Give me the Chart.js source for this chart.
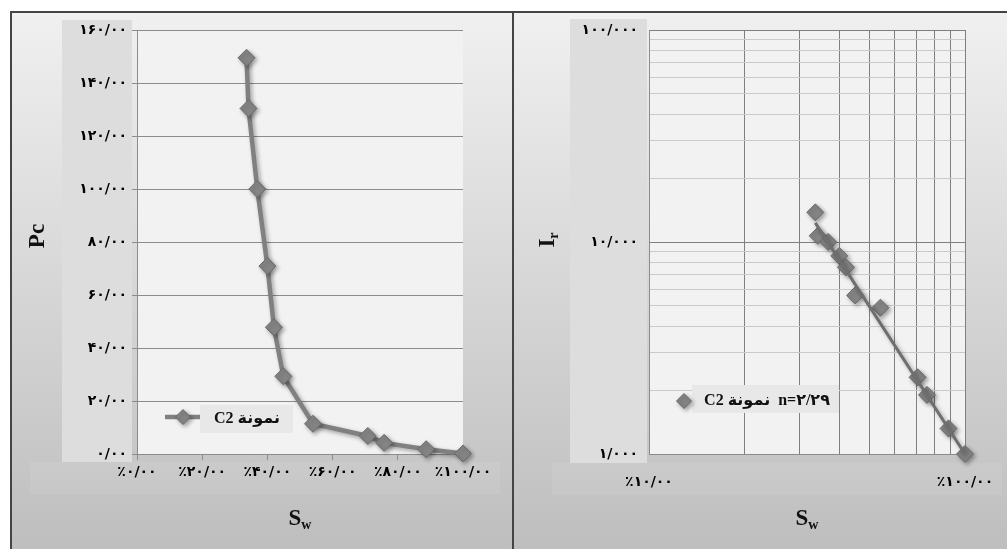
<!DOCTYPE html>
<html>
<head>
<meta charset="utf-8">
<script src="https://cdn.jsdelivr.net/npm/chart.js@4.4.0/dist/chart.umd.min.js"></script>
<style>
body{margin:0;background:#fff}
#wrap{position:relative;width:1007px;height:549px;overflow:hidden}
.panel{position:absolute;background:linear-gradient(#f0f0f0,#bebebe)}
canvas{position:absolute;top:0}
.line{position:absolute;background:#444}
</style>
</head>
<body>
<div id="wrap">
<div class="panel" style="left:12px;top:13px;width:500px;height:536px"></div>
<div class="panel" style="left:514px;top:13px;width:493px;height:536px"></div>
<canvas id="pcChart" width="512" height="549" style="left:0"></canvas>
<canvas id="irChart" width="495" height="549" style="left:512px"></canvas>
<div class="line" style="left:10px;top:11px;width:997px;height:2px"></div>
<div class="line" style="left:10px;top:11px;width:2px;height:538px"></div>
<div class="line" style="left:512px;top:11px;width:2px;height:538px"></div>
</div>
<script>

// saturation (%) shared by both plots
const swValues=[33.6,34.2,36.9,40.0,42.0,44.9,54.0,70.8,75.8,88.7,100]

// capillary pressure
const pcValues=[149.5,130.4,100.0,70.9,47.8,29.3,11.4,6.8,4.2,1.8,0.2]

// resistivity index
const irValues=[13.8,10.7,10.0,8.6,7.6,5.6,4.9,2.3,1.9,1.32,1.0]

// trend line ends
const trendSw=[33.6,100]
const trendIr=[12.3,1.0]

const pcTicks=[0,20,40,60,80,100,120,140,160]
const swTicks=[0,20,40,60,80,100]
const swLogTicks=[10,20,30,40,50,60,70,80,90,100]
const irLogTicks=[1,2,3,4,5,6,7,8,9,10,20,30,40,50,60,70,80,90,100]

const legendPc="نمونة C2"
const legendIr="n=۲/۲۹  نمونة C2"

const faDigits="۰۱۲۳۴۵۶۷۸۹"

function fa(s){
return s.replace(/\d/g,d=>faDigits[d]).replace(".","/")
}

function isDecade(v){
const l=Math.log10(v)
return Math.abs(l-Math.round(l))<1e-6
}

const tickFont={family:"'DejaVu Sans'",size:14,weight:"bold"}
const titleFont="bold 23px 'Liberation Serif', serif"
const subFont="bold 14px 'Liberation Serif', serif"

function drawSubTitle(ctx,x,y,main,sub,rotate){
ctx.save()
ctx.translate(x,y)
if(rotate) ctx.rotate(-Math.PI/2)
ctx.fillStyle="#111"
ctx.textBaseline="middle"
ctx.textAlign="left"
ctx.font=titleFont
const wm=ctx.measureText(main).width
ctx.font=subFont
const ws=ctx.measureText(sub).width
const start=-(wm+ws)/2
ctx.font=titleFont
ctx.fillText(main,start,0)
ctx.font=subFont
ctx.fillText(sub,start+wm,6)
ctx.restore()
}

function diamond(ctx,x,y,r){
ctx.beginPath()
ctx.moveTo(x,y-r)
ctx.lineTo(x+r,y)
ctx.lineTo(x,y+r)
ctx.lineTo(x-r,y)
ctx.closePath()
ctx.fillStyle="#858585"
ctx.fill()
ctx.strokeStyle="#6a6a6a"
ctx.lineWidth=1
ctx.stroke()
}

const shadowPlugin={
id:"shadow",
beforeDatasetsDraw(chart){
const ctx=chart.ctx
ctx.save()
ctx.shadowColor="rgba(0,0,0,0.35)"
ctx.shadowBlur=4
ctx.shadowOffsetX=2
ctx.shadowOffsetY=2
},
afterDatasetsDraw(chart){
chart.ctx.restore()
}
}

function backPlugin(band){
return {
id:"back",
beforeDraw(chart){
const ctx=chart.ctx
const a=chart.chartArea
ctx.save()
ctx.fillStyle="rgba(255,255,255,0.07)"
ctx.fillRect(band.xl,band.bottom,band.xr-band.xl,32)
ctx.fillStyle="#dddddd"
ctx.fillRect(band.left,band.top,band.right-band.left,band.bottom-band.top)
ctx.fillStyle="#f2f2f2"
ctx.fillRect(a.left,a.top,a.right-a.left,a.bottom-a.top)
ctx.restore()
}
}
}

// left chart: Pc against Sw
new Chart(document.getElementById("pcChart"),{
type:"scatter",
data:{
datasets:[{
label:legendPc,
data:swValues.map((s,i)=>({x:s,y:pcValues[i]})),
showLine:true,
clip:false,
borderColor:"#808080",
borderWidth:4.5,
pointStyle:"rectRot",
pointRadius:8.5,
pointBackgroundColor:"#858585",
pointBorderColor:"#6a6a6a",
pointBorderWidth:1
}]
},
options:{
responsive:false,
animation:false,
layout:{autoPadding:false,padding:{left:62,right:49,top:30,bottom:65}},
plugins:{legend:{display:false},tooltip:{enabled:false}},
scales:{
x:{
type:"linear",min:0,max:100,
afterBuildTicks:s=>{s.ticks=swTicks.map(v=>({value:v}))},
afterFit:s=>{s.height=30},
grid:{drawOnChartArea:false,color:"#8c8c8c",tickLength:6},
border:{color:"#8c8c8c"},
ticks:{padding:4,color:"#000",font:tickFont,maxRotation:0,autoSkip:false,
callback:v=>"٪"+fa(v.toFixed(2))}
},
y:{
min:0,max:160,
afterBuildTicks:s=>{s.ticks=pcTicks.map(v=>({value:v}))},
afterFit:s=>{s.width=75},
grid:{color:"#8c8c8c",tickLength:5},
border:{color:"#8c8c8c"},
ticks:{padding:5,color:"#000",font:tickFont,autoSkip:false,
callback:v=>fa(v.toFixed(2))}
}
}
},
plugins:[backPlugin({left:62,right:132,top:20,bottom:462,xl:30,xr:500}),shadowPlugin,{
id:"decor",
afterDraw(chart){
const ctx=chart.ctx
drawSubTitle(ctx,38,236,"Pc","",true)
drawSubTitle(ctx,300,519,"S","w",false)
ctx.save()
ctx.fillStyle="#e8e8e8"
ctx.fillRect(200,405,93,28)
ctx.strokeStyle="#808080"
ctx.lineWidth=4.5
ctx.beginPath()
ctx.moveTo(165,417)
ctx.lineTo(200,417)
ctx.stroke()
ctx.shadowColor="rgba(0,0,0,0.35)"
ctx.shadowBlur=4
ctx.shadowOffsetX=2
ctx.shadowOffsetY=2
diamond(ctx,183,417,7.5)
ctx.restore()
ctx.save()
ctx.font="bold 16px 'Liberation Serif', 'DejaVu Sans', serif"
ctx.fillStyle="#111"
ctx.direction="rtl"
ctx.textAlign="center"
ctx.textBaseline="middle"
ctx.fillText(legendPc,247,419)
ctx.restore()
}
}]
})

// right chart: Ir against Sw, log-log
new Chart(document.getElementById("irChart"),{
type:"scatter",
data:{
datasets:[{
label:"trend",
data:trendSw.map((s,i)=>({x:s,y:trendIr[i]})),
showLine:true,
clip:false,
borderColor:"#6e6e6e",
borderWidth:3,
pointRadius:0,
order:0
},{
label:legendIr,
data:swValues.map((s,i)=>({x:s,y:irValues[i]})),
clip:false,
pointStyle:"rectRot",
pointRadius:8.5,
pointBackgroundColor:"#858585",
pointBorderColor:"#6a6a6a",
pointBorderWidth:1,
order:1
}]
},
options:{
responsive:false,
animation:false,
layout:{autoPadding:false,padding:{left:58,right:42,top:30,bottom:55}},
plugins:{legend:{display:false},tooltip:{enabled:false}},
scales:{
x:{
type:"logarithmic",min:10,max:100,
afterBuildTicks:s=>{s.ticks=swLogTicks.map(v=>({value:v}))},
afterFit:s=>{s.height=40},
grid:{color:"#7f7f7f",tickLength:20,tickColor:"rgba(0,0,0,0)"},
border:{color:"#8c8c8c"},
ticks:{padding:0,color:"#000",font:tickFont,maxRotation:0,autoSkip:false,
callback:v=>v===10?"٪۱۰/۰۰":(v===100?"٪۱۰۰/۰۰":"")}
},
y:{
type:"logarithmic",min:1,max:100,
afterBuildTicks:s=>{s.ticks=irLogTicks.map(v=>({value:v}))},
afterFit:s=>{s.width=79},
grid:{drawTicks:false,color:c=>c.tick&&isDecade(c.tick.value)?"#7f7f7f":"#cacaca"},
border:{color:"#8c8c8c"},
ticks:{padding:11,color:"#000",font:tickFont,autoSkip:false,
callback:v=>isDecade(v)?fa(v.toFixed(3)):""}
}
}
},
plugins:[backPlugin({left:58,right:135,top:19,bottom:463,xl:40,xr:490}),shadowPlugin,{
id:"decor",
afterDraw(chart){
const ctx=chart.ctx
drawSubTitle(ctx,36,240,"I","r",true)
drawSubTitle(ctx,295,519,"S","w",false)
ctx.save()
ctx.fillStyle="#e8e8e8"
ctx.fillRect(180,385,147,28)
ctx.shadowColor="rgba(0,0,0,0.35)"
ctx.shadowBlur=4
ctx.shadowOffsetX=2
ctx.shadowOffsetY=2
diamond(ctx,172,401,7.5)
ctx.restore()
ctx.save()
ctx.font="bold 16px 'Liberation Serif', 'DejaVu Sans', serif"
ctx.fillStyle="#111"
ctx.direction="rtl"
ctx.textAlign="center"
ctx.textBaseline="middle"
ctx.fillText(legendIr,255,401)
ctx.restore()
}
}]
})

</script>
</body>
</html>
